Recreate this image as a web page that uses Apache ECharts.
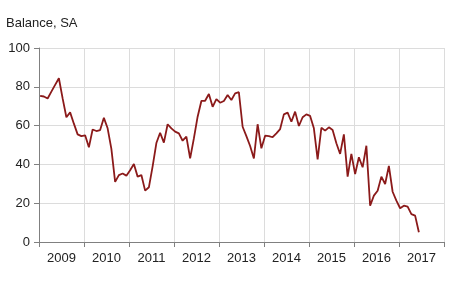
<!DOCTYPE html>
<html>
<head>
<meta charset="utf-8">
<script src="https://cdn.jsdelivr.net/npm/echarts@6/dist/echarts.min.js"></script>
<style>html,body{margin:0;padding:0;background:#fff;}#c{width:450px;height:292px;}</style>
</head>
<body>
<div id="c"></div>
<script>
var years = ['2009','2010','2011','2012','2013','2014','2015','2016','2017'];
var yTicks = [0, 20, 40, 60, 80, 100];
var titleText = 'Balance, SA';
// monthly balance, Jan 2009 .. Jun 2017
var balance = [
  75.3, 75, 74, 77.5, 81, 84.4, 74, 64.3, 66.8, 61, 55.5, 54.6,
  55, 48.8, 58, 57.2, 57.7, 64, 58.6, 48, 31, 34.5, 35.3, 34.2,
  37, 40.2, 33.7, 34.5, 26.5, 28.2, 39, 51, 56.3, 51.2, 60.7, 58.6,
  56.9, 56, 52.2, 54.3, 43.1, 53.4, 64.6, 72.7, 72.8, 76.3, 69.7, 73.7,
  71.8, 72.7, 75.8, 73.2, 76.6, 77.2, 59.4, 54.6, 49.5, 43.1, 60.7, 48.3,
  54.8, 54.6, 54, 56, 58.2, 65.8, 66.7, 62, 67.2, 59.8, 64.3, 65.8,
  65, 58.6, 42.6, 58.9, 57.4, 59.1, 57.7, 50.9, 45.4, 55.5, 33.7, 45.4,
  35, 43.7, 38.5, 49.6, 18.7, 23.9, 26.4, 33.7, 29.9, 39.2, 25.9, 21.3,
  17.4, 18.7, 18.2, 14.4, 13.6, 5
];
var pts = balance.map(function(v, i){ return [i + 0.3, v]; });
var chart = echarts.init(document.getElementById('c'), null, {renderer:'canvas'});
var font = 'Liberation Sans, Arial, sans-serif';
chart.setOption({
  animation: false,
  title: {text: titleText, left: 6, top: 17, padding: 0, textStyle:{fontFamily: font, fontSize: 13, fontWeight:'normal', color:'#222'}},
  grid: {left: 39, right: 6, top: 48, bottom: 50, containLabel: false},
  xAxis: [
    {type:'value', min:0, max: years.length*12, interval:12, position:'bottom',
     axisLine:{show:false}, axisTick:{show:false}, axisLabel:{show:false},
     splitLine:{show:true, lineStyle:{color:'#dcdcdc', width:1}}},
    {type:'category', data: years, boundaryGap:true, position:'bottom',
     axisLine:{show:true, lineStyle:{color:'#808080', width:1}},
     axisTick:{show:true, length:5, lineStyle:{color:'#808080'}},
     axisLabel:{fontFamily: font, fontSize:13, color:'#222', margin:10},
     splitLine:{show:false}}
  ],
  yAxis: {type:'value', min: yTicks[0], max: yTicks[yTicks.length-1], interval:20,
    axisLine:{show:true, lineStyle:{color:'#808080'}},
    axisTick:{show:true, length:5, lineStyle:{color:'#808080'}},
    axisLabel:{fontFamily: font, fontSize:13, color:'#222', margin:9},
    splitLine:{show:true, lineStyle:{color:'#dcdcdc', width:1}}},
  series: [{type:'line', xAxisIndex:0, data: pts, showSymbol:false, symbol:'none',
    lineStyle:{color:'#8b1a1a', width:1.8}}]
});
</script>
</body>
</html>
